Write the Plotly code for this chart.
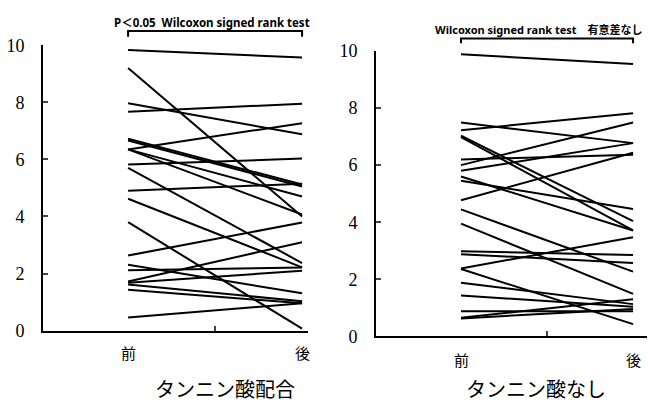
import plotly.graph_objects as go

# ---- data ----
categories = ["前", "後"]
with_before = [9.83, 9.2, 7.97, 7.67, 6.72, 6.66, 6.35, 6.35, 6.35, 5.82, 5.7, 4.9, 4.62, 3.8, 2.63, 2.31, 2.12, 1.72, 1.68, 1.62, 1.43, 0.46]
with_after = [9.57, 4.0, 6.88, 7.95, 5.12, 5.05, 7.27, 4.07, 4.7, 6.03, 2.37, 5.15, 2.22, 0.07, 3.79, 1.31, 2.21, 3.1, 2.1, 1.03, 0.96, 0.96]
without_before = [9.88, 7.49, 7.22, 7.03, 6.98, 6.2, 6.0, 5.8, 5.6, 5.45, 4.77, 4.45, 3.95, 2.98, 2.88, 2.38, 2.36, 1.88, 1.43, 0.88, 0.65, 0.63]
without_after = [9.54, 6.77, 7.82, 4.04, 3.71, 6.36, 7.49, 6.77, 3.71, 4.46, 6.43, 2.27, 1.49, 2.85, 2.57, 3.47, 0.43, 1.13, 1.04, 0.88, 1.3, 0.96]
y_ticks = [0, 2, 4, 6, 8, 10]
panel_titles = ["タンニン酸配合", "タンニン酸なし"]
test_labels = ["P＜0.05  Wilcoxon signed rank test", "Wilcoxon signed rank test　有意差なし"]

W, H = 648, 413


def pairs(before, after):
    xs, ys = [], []
    for b, a in zip(before, after):
        xs += [0, 1, None]
        ys += [b, a, None]
    return xs, ys


fig = go.Figure()
for i, (b, a) in enumerate([(with_before, with_after), (without_before, without_after)]):
    xs, ys = pairs(b, a)
    fig.add_trace(go.Scatter(
        x=xs, y=ys, mode="lines",
        line=dict(color="black", width=2),
        xaxis="x" if i == 0 else "x2", yaxis="y" if i == 0 else "y2",
        showlegend=False, hoverinfo="skip"))

tickfont = dict(family="Times New Roman, Liberation Serif, DejaVu Serif, serif", size=18, color="black")
yax_common = dict(range=[0, 10], tickvals=y_ticks, ticks="inside", ticklen=5, tickwidth=2,
                  showline=True, linecolor="black", linewidth=2, showgrid=False, zeroline=False,
                  tickfont=tickfont, ticklabelstandoff=13, fixedrange=True)
xax_common = dict(tickvals=[0.5], ticktext=[""], ticks="inside", ticklen=5, tickwidth=2,
                  showline=True, linecolor="black", linewidth=2, showgrid=False, zeroline=False,
                  fixedrange=True)

# pixel geometry -> domains
def xd(a, b):
    return [a / W, b / W]

def yd(bottom_px, top_px):
    return [(H - bottom_px) / H, (H - top_px) / H]

fig.update_layout(
    width=W, height=H, margin=dict(l=0, r=0, t=0, b=0),
    paper_bgcolor="white", plot_bgcolor="white",
    xaxis=dict(domain=xd(43, 308), range=[-0.489, 1.034], anchor="y", **xax_common),
    yaxis=dict(domain=yd(337, 37), anchor="x", **yax_common),
    xaxis2=dict(domain=xd(376, 647), range=[-0.494, 1.081], anchor="y2", **xax_common),
    yaxis2=dict(domain=yd(343, 43), anchor="x2", **yax_common),
)

# brackets
for xref, ytop, ybot in [("x", (H - 22) / H, (H - 28) / H), ("x2", (H - 30) / H, (H - 35) / H)]:
    fig.add_shape(type="path", xref=xref, yref="paper",
                  path=f"M 0 {ybot} L 0 {ytop} L 1 {ytop} L 1 {ybot}",
                  line=dict(color="black", width=2))

ann = []
label_font = dict(family="Noto Sans CJK JP", size=15, color="black")
title_font = dict(family="Noto Sans CJK JP", size=20, color="black")
for xr, ylab, xt, ytest, xtest, tsize in [("x", (H - 360) / H, 0.557, (H - 13) / H, 0.483, 11.5),
                                          ("x2", (H - 367) / H, 0.436, (H - 20) / H, 0.455, 11)]:
    for k, c in enumerate(categories):
        ann.append(dict(x=k, y=ylab, xref=xr, yref="paper", text=c, showarrow=False,
                        font=label_font, xanchor="center", yanchor="middle"))
    idx = 0 if xr == "x" else 1
    ann.append(dict(x=xt, y=(H - 398) / H, xref=xr, yref="paper", text=panel_titles[idx],
                    showarrow=False, font=title_font, xanchor="center", yanchor="middle"))
    ann.append(dict(x=xtest, y=ytest, xref=xr, yref="paper", text="<b>" + test_labels[idx] + "</b>",
                    showarrow=False, borderpad=0,
                    font=dict(family="Noto Sans, Noto Sans CJK JP", size=tsize, color="black"),
                    xanchor="center", yanchor="middle"))
fig.update_layout(annotations=ann)

fig.write_html("out.html", config={"displayModeBar": False},
               post_script="document.body.style.margin='0';document.body.style.overflow='hidden';")
